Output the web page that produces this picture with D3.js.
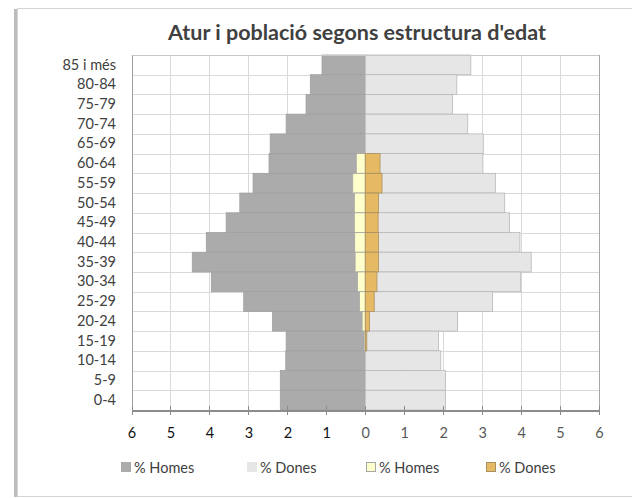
<!DOCTYPE html>
<html lang="ca">
<head>
    <meta charset="UTF-8">
    <title>Atur i població segons estructura d'edat</title>
    <script src="https://d3js.org/d3.v7.min.js"></script>
    <style>
        body {
            margin: 0;
            padding: 0;
            background: #fff;
            font-family: Lato, "Open Sans", sans-serif;
        }
        svg { display: block; }
        .grid line { stroke: #d9d9d9; stroke-width: 1px; shape-rendering: crispEdges; }
        .axis path, .axis line { shape-rendering: crispEdges; }
    </style>
</head>
<body>
    <svg id="chart" width="632" height="498"></svg>

    <script>
        // Dades
        const ageGroups = ["85 i més", "80-84", "75-79", "70-74", "65-69", "60-64", "55-59", "50-54", "45-49",
                           "40-44", "35-39", "30-34", "25-29", "20-24", "15-19", "10-14", "5-9", "0-4"];
        // població (%)
        const popHomes = [1.11, 1.41, 1.52, 2.03, 2.44, 2.47, 2.88, 3.22, 3.57,
                          4.08, 4.44, 3.95, 3.12, 2.38, 2.03, 2.04, 2.18, 2.18];
        const popDones = [2.71, 2.35, 2.24, 2.63, 3.03, 3.02, 3.34, 3.58, 3.70,
                          3.97, 4.26, 3.99, 3.27, 2.37, 1.88, 1.94, 2.06, 2.06];
        // atur (%)
        const aturHomes = [0, 0, 0, 0, 0, 0.23, 0.32, 0.28, 0.28,
                           0.27, 0.26, 0.20, 0.15, 0.08, 0.03, 0, 0, 0];
        const aturDones = [0, 0, 0, 0, 0, 0.38, 0.43, 0.34, 0.33,
                           0.34, 0.34, 0.30, 0.23, 0.11, 0.04, 0, 0, 0];
        const xTicks = [-6, -5, -4, -3, -2, -1, 0, 1, 2, 3, 4, 5, 6];
        const legendLabels = ["% Homes", "% Dones", "% Homes", "% Dones"];

        const colors = {
            popHomes: "#ababab", popHomesStroke: "#a0a0a0",
            popDones: "#e6e6e6", popDonesStroke: "#b8b8b8",
            aturHomes: "#ffffcc", aturHomesStroke: "#a6a6a6",
            aturDones: "#e6b964", aturDonesStroke: "#a89060"
        };

        const svg = d3.select("#chart");

        // marc del gràfic
        svg.append("rect")
            .attr("x", 14).attr("y", 9).attr("width", 4).attr("height", 488)
            .attr("fill", "#bdbdbd");
        svg.append("rect")
            .attr("x", 17.5).attr("y", 8.5).attr("width", 620).attr("height", 488)
            .attr("fill", "#fff").attr("stroke", "#d4d4d4");

        const plot = { left: 131.5, right: 599, top: 55, bottom: 410 };

        const x = d3.scaleLinear()
            .domain([-6, 6])
            .range([plot.left, plot.right]);

        const y = d3.scaleBand()
            .domain(ageGroups)
            .range([plot.top, plot.bottom])
            .padding(0);

        // títol
        svg.append("text")
            .attr("x", 357)
            .attr("y", 40)
            .attr("text-anchor", "middle")
            .attr("font-size", "21.5px")
            .attr("font-weight", "bold")
            .attr("fill", "#404040")
            .text("Atur i població segons estructura d'edat");

        // graella
        svg.append("g").attr("class", "grid")
            .selectAll("line")
            .data(xTicks)
            .join("line")
            .attr("x1", d => Math.round(x(d)) + 0.5)
            .attr("x2", d => Math.round(x(d)) + 0.5)
            .attr("y1", plot.top)
            .attr("y2", plot.bottom);

        svg.append("g").attr("class", "grid")
            .selectAll("line")
            .data(ageGroups)
            .join("line")
            .attr("x1", plot.left)
            .attr("x2", plot.right)
            .attr("y1", d => Math.round(y(d)) + 0.5)
            .attr("y2", d => Math.round(y(d)) + 0.5);

        // barres
        const rows = ageGroups.map((g, i) => ({
            group: g, ph: popHomes[i], pd: popDones[i], ah: aturHomes[i], ad: aturDones[i]
        }));

        function bars(cls, x0, x1, fill, stroke) {
            svg.append("g")
                .selectAll("rect")
                .data(rows.filter(d => x1(d) !== x0(d)))
                .join("rect")
                .attr("class", cls)
                .attr("x", d => x(Math.min(x0(d), x1(d))))
                .attr("y", d => y(d.group))
                .attr("width", d => Math.abs(x(x1(d)) - x(x0(d))))
                .attr("height", y.bandwidth())
                .attr("fill", fill)
                .attr("stroke", stroke)
                .attr("stroke-width", 0.8);
        }

        bars("pop-homes", d => -d.ph, d => 0, colors.popHomes, colors.popHomesStroke);
        bars("pop-dones", d => 0, d => d.pd, colors.popDones, colors.popDonesStroke);
        bars("atur-homes", d => -d.ah, d => 0, colors.aturHomes, colors.aturHomesStroke);
        bars("atur-dones", d => 0, d => d.ad, colors.aturDones, colors.aturDonesStroke);

        // vores
        svg.append("line")
            .attr("x1", plot.left).attr("x2", plot.right)
            .attr("y1", plot.top + 0.5).attr("y2", plot.top + 0.5)
            .attr("stroke", "#c8c8c8");
        svg.append("line")
            .attr("x1", plot.right + 0.5).attr("x2", plot.right + 0.5)
            .attr("y1", plot.top).attr("y2", plot.bottom)
            .attr("stroke", "#a6a6a6");

        // eix Y
        const yAxis = svg.append("g")
            .attr("class", "axis")
            .attr("transform", `translate(${plot.left + 0.5},0)`)
            .call(d3.axisLeft(y).tickSize(0).tickPadding(16));
        yAxis.select(".domain").attr("stroke", "#a0a0a0");
        yAxis.selectAll("text")
            .attr("font-family", "Lato, sans-serif")
            .attr("font-size", "14.5px")
            .attr("fill", "#404040");

        // eix X
        const xAxis = svg.append("g")
            .attr("class", "axis")
            .attr("transform", `translate(0,${plot.bottom + 0.5})`)
            .call(d3.axisBottom(x).tickValues(xTicks)
                .tickFormat(d => Math.abs(d))
                .tickSizeInner(5).tickSizeOuter(0).tickPadding(12));
        xAxis.select(".domain").attr("stroke", "#8c8c8c").attr("stroke-width", 1.5);
        xAxis.selectAll(".tick line")
            .attr("y1", -5)
            .attr("y2", 4)
            .attr("stroke", "#8c8c8c");
        xAxis.selectAll("text")
            .attr("font-family", "Lato, sans-serif")
            .attr("font-size", "14.5px")
            .attr("fill", d => d < 0 ? "#111" : "#595959");

        // llegenda
        const legendColors = [
            [colors.popHomes, colors.popHomes],
            [colors.popDones, colors.popDones],
            [colors.aturHomes, colors.aturHomesStroke],
            [colors.aturDones, colors.aturDonesStroke]
        ];
        const legendX = [121.5, 247.5, 366.5, 486.5];

        const legend = svg.append("g")
            .selectAll("g")
            .data(legendLabels)
            .join("g")
            .attr("transform", (d, i) => `translate(${legendX[i]},462.5)`);

        legend.append("rect")
            .attr("width", 9)
            .attr("height", 9)
            .attr("fill", (d, i) => legendColors[i][0])
            .attr("stroke", (d, i) => legendColors[i][1]);

        legend.append("text")
            .attr("x", 12.5)
            .attr("y", 10)
            .attr("font-size", "14.5px")
            .attr("fill", "#404040")
            .text(d => d);
    </script>
</body>
</html>
